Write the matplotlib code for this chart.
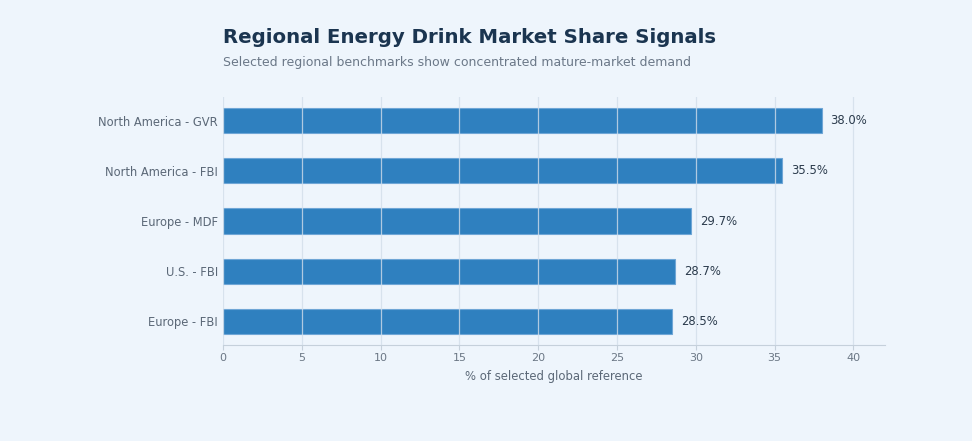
import matplotlib
matplotlib.use("Agg")
import matplotlib.pyplot as plt

categories = ["North America - GVR", "North America - FBI", "Europe - MDF", "U.S. - FBI", "Europe - FBI"]
values = [38.0, 35.5, 29.7, 28.7, 28.5]
xticks = [0, 5, 10, 15, 20, 25, 30, 35, 40]

bg = "#eef5fc"
bar_color = "#2f80bf"

fig = plt.figure(figsize=(9.72, 4.41), dpi=100, facecolor=bg)
ax = fig.add_axes([0.2294, 0.2177, 0.681, 0.5623])
ax.set_facecolor(bg)

y = list(range(len(categories)))[::-1]
bars = ax.barh(y, values, height=0.5, color=bar_color, edgecolor="#6fa6d6", linewidth=0.8, zorder=2)
for yi, v in zip(y, values):
    ax.text(v + 0.55, yi, f"{v:.1f}%", va="center", ha="left", fontsize=8.4, color="#2b3b4c", zorder=4)

ax.set_yticks(y)
ax.set_yticklabels(categories, fontsize=8.3, color="#5b6877")
ax.set_xticks(xticks)
ax.set_xticklabels([str(t) for t in xticks], fontsize=8, color="#6b7785")
ax.set_xlim(0, 42)
ax.grid(axis="x", color="#d2deea", linewidth=0.9, alpha=0.8, zorder=3)
ax.set_axisbelow(False)
for s in ["top", "right", "left"]:
    ax.spines[s].set_visible(False)
ax.spines["bottom"].set_color("#c5d0db")
ax.tick_params(axis="y", length=0, pad=3.5)
ax.tick_params(axis="x", length=3.5, color="#c5d0db", pad=2)
ax.set_xlabel("% of selected global reference", fontsize=8.4, color="#5b6877", labelpad=5)

fig.text(0.2294, 0.914, "Regional Energy Drink Market Share Signals", fontsize=14.2, fontweight="bold",
         color="#1b3550", ha="left", va="center")
fig.text(0.2294, 0.859, "Selected regional benchmarks show concentrated mature-market demand", fontsize=9.0,
         color="#6b7888", ha="left", va="center")

fig.savefig("out.png", dpi=100, facecolor=bg)
